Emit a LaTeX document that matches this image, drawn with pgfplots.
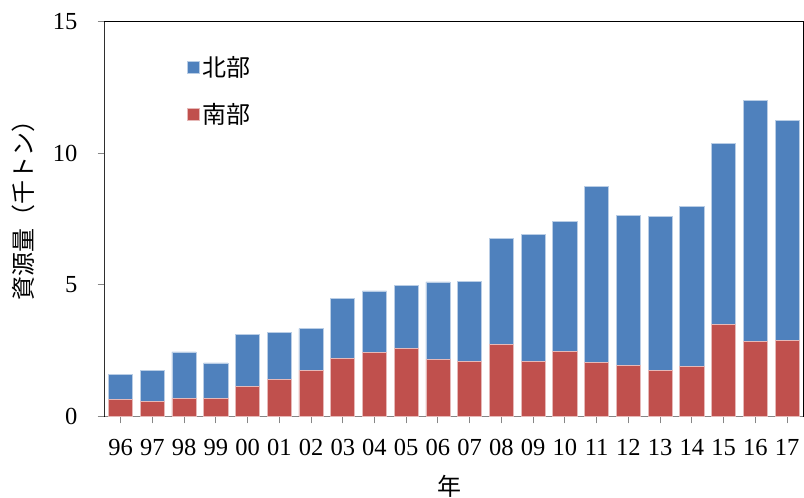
\documentclass[border=0pt]{standalone}
\usepackage{pgfplots}
\pgfplotsset{compat=1.18}
\usepackage{fontspec}
\setmainfont{Liberation Serif}
\newfontfamily\cjk{Noto Sans CJK JP}
\definecolor{nblue}{RGB}{79,129,189}
\definecolor{sred}{RGB}{192,80,77}
\definecolor{nedge}{RGB}{185,205,229}
\definecolor{sedge}{RGB}{230,185,184}
\definecolor{axgray}{RGB}{134,134,134}
\begin{document}
\begin{tikzpicture}
\begin{axis}[
  name=ax,
  scale only axis,
  width=698.3pt, height=394.3pt,
  ybar stacked,
  bar width=24.2pt,
  xmin=-0.5, xmax=21.5,
  ymin=0, ymax=15,
  ytick={0,5,10,15},
  xtick={0,...,21},
  xticklabels={96,97,98,99,00,01,02,03,04,05,06,07,08,09,10,11,12,13,14,15,16,17},
  xtick pos=left, ytick pos=left,
  tick align=outside,
  major tick length=7pt,
  tick style={axgray, line width=1pt},
  axis line style={black, line width=1pt},
  /pgf/number format/assume math mode=true,
  ticklabel style={font=\fontsize{24.5}{28}\selectfont, inner sep=0pt},
  yticklabel style={xshift=-20pt},
  xticklabel style={yshift=-16pt},
  ylabel={\cjk 資源量（千トン）},
  ylabel style={font=\fontsize{24}{28}\selectfont, inner sep=0pt, at={(rel axis cs:0,0.536)}, anchor=south, yshift=70pt},
  xlabel={\cjk 年},
  xlabel style={font=\fontsize{24}{28}\selectfont, inner sep=0pt, at={(rel axis cs:0.494,0)}, anchor=north, yshift=-59pt},
  reverse legend,
  legend style={at={(rel axis cs:0.118,0.918)}, anchor=north west, draw=none, fill=none,
    font=\fontsize{24}{28}\selectfont\cjk, inner sep=0pt, row sep=21pt},
  legend cell align=left,
  legend image code/.code={\fill[#1] (0pt,-6pt) rectangle (12pt,6pt);},
]
\addplot[fill=sred, draw=sedge, line width=0.75pt] coordinates {
(0,0.65) (1,0.56) (2,0.69) (3,0.69) (4,1.14) (5,1.41) (6,1.75) (7,2.21) (8,2.42) (9,2.59) (10,2.17)
(11,2.09) (12,2.74) (13,2.09) (14,2.47) (15,2.04) (16,1.95) (17,1.75) (18,1.90) (19,3.50) (20,2.84) (21,2.89)};
\addlegendentry{南部}
\addplot[fill=nblue, draw=nedge, line width=0.75pt] coordinates {
(0,0.95) (1,1.19) (2,1.76) (3,1.34) (4,1.99) (5,1.79) (6,1.59) (7,2.27) (8,2.35) (9,2.40) (10,2.94)
(11,3.05) (12,4.02) (13,4.84) (14,4.95) (15,6.70) (16,5.70) (17,5.86) (18,6.09) (19,6.88) (20,9.19) (21,8.35)};
\addlegendentry{北部}
\draw[axgray, line width=1pt] (rel axis cs:0,0) -- (rel axis cs:0,1);
\draw[axgray, line width=1pt] (rel axis cs:0,0) -- (rel axis cs:1,0);
\end{axis}
\pgfresetboundingbox
\path ([xshift=-104.7pt,yshift=-81.7pt]ax.south west) rectangle ([xshift=1pt,yshift=22pt]ax.north east);
\end{tikzpicture}
\end{document}
